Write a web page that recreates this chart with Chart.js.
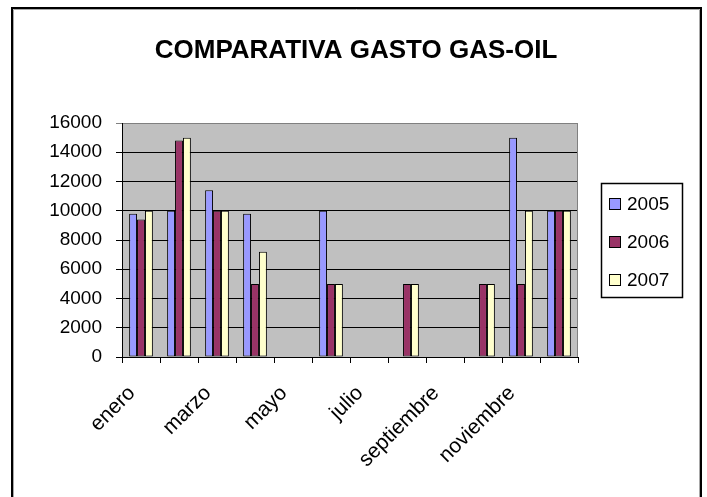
<!DOCTYPE html>
<html>
<head>
<meta charset="utf-8">
<title>Comparativa gasto gas-oil</title>
<script src="https://cdn.jsdelivr.net/npm/chart.js@4/dist/chart.umd.min.js"></script>
<style>
	body { margin: 0; background: #fff; }
	canvas { display: block; }
</style>
</head>
<body>
<canvas id="graficoGasto" width="707" height="497"></canvas>
<script>
var titulo = 'COMPARATIVA GASTO GAS-OIL';
var meses = ['enero', 'febrero', 'marzo', 'abril', 'mayo', 'junio', 'julio', 'agosto', 'septiembre', 'octubre', 'noviembre', 'diciembre'];
var anios = ['2005', '2006', '2007'];
var gasto2005 = [9800, 10000, 11400, 9800, null, 10000, null, null, null, null, 15000, 10000];
var gasto2006 = [9400, 14800, 10000, 5000, null, 5000, null, 5000, null, 5000, 5000, 10000];
var gasto2007 = [10000, 15000, 10000, 7200, null, 5000, null, 5000, null, 5000, 10000, 10000];
var ejeY = [0, 2000, 4000, 6000, 8000, 10000, 12000, 14000, 16000];

var colores = ['#9999FF', '#993366', '#FFFFCC'];
var fuente = "'Liberation Sans', Arial, sans-serif";

Chart.defaults.font.family = fuente;
Chart.defaults.font.size = 19;
Chart.defaults.color = '#000';

// marco exterior, fondo gris del area de trazado y titulo
var marco = {
	id: 'marco',
	beforeDraw: function(chart) {
		var ctx = chart.ctx;
		var area = chart.chartArea;
		ctx.save();
		ctx.fillStyle = '#fff';
		ctx.fillRect(0, 0, chart.width, chart.height);

		ctx.strokeStyle = '#000';
		ctx.lineWidth = 2;
		ctx.beginPath();
		ctx.moveTo(12, chart.height);
		ctx.lineTo(12, 8);
		ctx.lineTo(701, 8);
		ctx.lineTo(701, chart.height);
		ctx.stroke();
		ctx.strokeStyle = '#a8a8a8';
		ctx.lineWidth = 1;
		ctx.beginPath();
		ctx.moveTo(13.5, chart.height);
		ctx.lineTo(13.5, 9.5);
		ctx.lineTo(699.5, 9.5);
		ctx.lineTo(699.5, chart.height);
		ctx.stroke();

		ctx.fillStyle = '#C0C0C0';
		ctx.fillRect(area.left, area.top, area.right - area.left, area.bottom - area.top);

		ctx.fillStyle = '#000';
		ctx.font = 'bold 26px ' + fuente;
		ctx.textAlign = 'center';
		ctx.textBaseline = 'alphabetic';
		ctx.fillText(titulo, 356, 58);
		ctx.restore();
	},
	beforeDatasetsDraw: function(chart) {
		var ctx = chart.ctx;
		var area = chart.chartArea;
		ctx.save();
		ctx.strokeStyle = '#808080';
		ctx.lineWidth = 1;
		ctx.beginPath();
		ctx.moveTo(area.right - 0.5, area.top);
		ctx.lineTo(area.right - 0.5, area.bottom);
		ctx.stroke();
		ctx.restore();
	}
};

// leyenda con recuadro, como en Excel
var leyenda = {
	id: 'leyenda',
	afterDraw: function(chart) {
		var ctx = chart.ctx;
		ctx.save();
		ctx.strokeStyle = '#000';
		ctx.lineWidth = 1.5;
		ctx.strokeRect(601.5, 183.5, 81, 114);
		ctx.font = '19px ' + fuente;
		ctx.textAlign = 'left';
		ctx.textBaseline = 'middle';
		chart.data.datasets.forEach(function(ds, i) {
			var y = 204 + i * 38;
			ctx.fillStyle = ds.backgroundColor;
			ctx.fillRect(609, y - 6, 12, 12);
			ctx.strokeStyle = '#000';
			ctx.lineWidth = 1;
			ctx.strokeRect(609.5, y - 5.5, 11, 11);
			ctx.fillStyle = '#000';
			ctx.fillText(ds.label, 627, y + 1);
		});
		ctx.restore();
	}
};

var graficoGasto = new Chart(document.getElementById('graficoGasto').getContext('2d'), {
	type: 'bar',
	data: {
		labels: meses,
		datasets: [{
			label: anios[0],
			backgroundColor: colores[0],
			data: gasto2005
		}, {
			label: anios[1],
			backgroundColor: colores[1],
			data: gasto2006
		}, {
			label: anios[2],
			backgroundColor: colores[2],
			data: gasto2007
		}]
	},
	options: {
		responsive: false,
		animation: false,
		layout: {
			padding: { top: 123, right: 129, left: 0, bottom: 0 }
		},
		datasets: {
			bar: {
				borderColor: '#000',
				borderWidth: 1,
				borderSkipped: false,
				categoryPercentage: 0.625,
				barPercentage: 1
			}
		},
		plugins: {
			legend: { display: false },
			title: { display: false },
			tooltip: { enabled: false }
		},
		scales: {
			x: {
				afterFit: function(scale) { scale.height = 140; },
				grid: {
					offset: true,
					drawOnChartArea: false,
					tickLength: 6,
					color: '#000'
				},
				border: { color: '#000', width: 1 },
				ticks: {
					autoSkip: false,
					minRotation: 45,
					maxRotation: 45,
					labelOffset: -9,
					padding: 18,
					font: { size: 21 },
					callback: function(valor, i) {
						return i % 2 === 0 ? meses[i] : '';
					}
				}
			},
			y: {
				min: ejeY[0],
				max: ejeY[ejeY.length - 1],
				afterFit: function(scale) { scale.width = 122; },
				grid: {
					tickLength: 6,
					color: function(c) {
						return c.tick && c.tick.value === ejeY[ejeY.length - 1] ? '#808080' : '#000';
					}
				},
				border: { color: '#000', width: 1 },
				ticks: {
					stepSize: ejeY[1] - ejeY[0],
					padding: 14,
					callback: function(valor) { return String(valor); }
				}
			}
		}
	},
	plugins: [marco, leyenda]
});
</script>
</body>
</html>
